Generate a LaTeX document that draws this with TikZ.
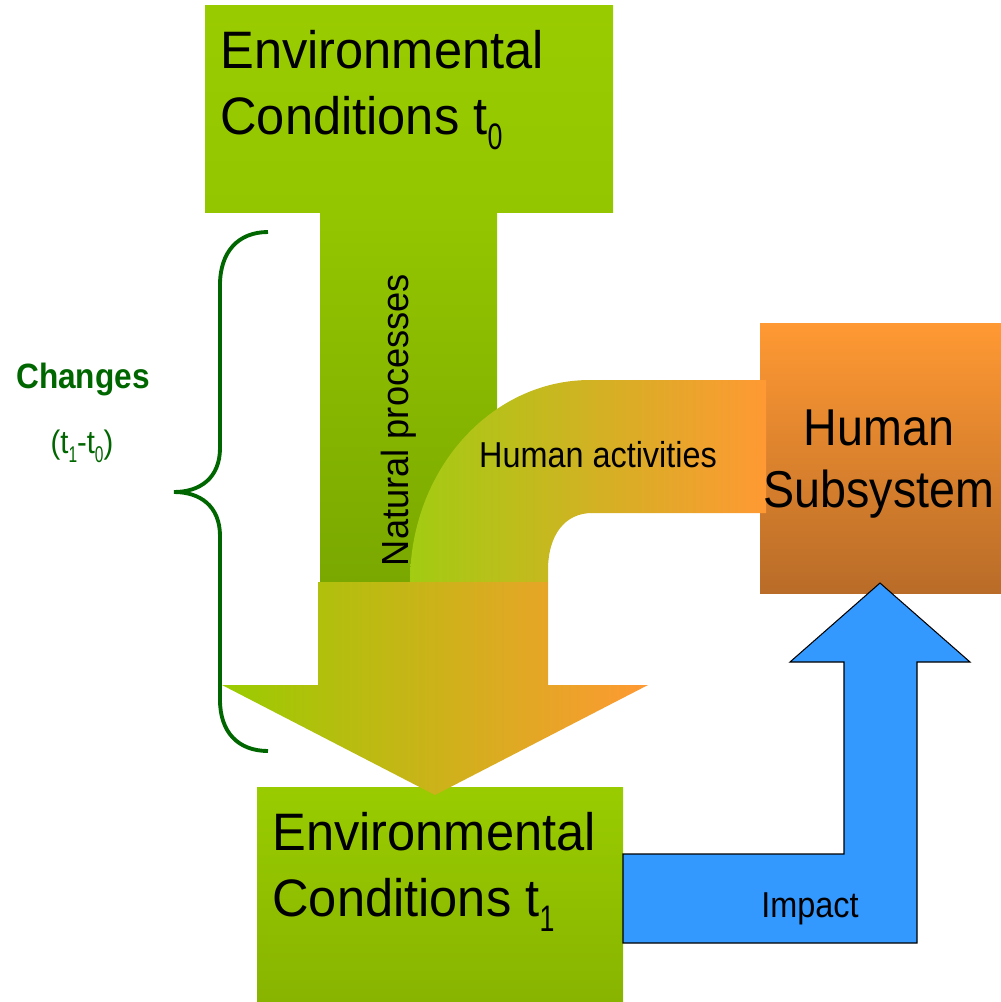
\documentclass[tikz,border=0pt]{standalone}
\usepackage{fontspec}
\usepackage{graphicx}
\setmainfont[FakeStretch=0.9]{Liberation Sans}
\newfontfamily\widesans[FakeStretch=0.96]{Liberation Sans}
\newcommand{\lowsub}[1]{\raisebox{-0.28em}{\scalebox{0.53}[0.7]{#1}}}
\definecolor{envgreen}{RGB}{153,204,0}
\definecolor{envgreenmid}{RGB}{148,198,0}
\definecolor{envgreendark}{RGB}{122,168,0}
\definecolor{envgreenlow}{RGB}{136,180,0}
\definecolor{pipegreen}{RGB}{162,204,18}
\definecolor{humanorange}{RGB}{255,153,51}
\definecolor{humanbrown}{RGB}{185,108,40}
\definecolor{impactblue}{RGB}{51,153,255}
\definecolor{changegreen}{RGB}{0,102,0}
\begin{document}
\begin{tikzpicture}[x=0.02cm,y=-0.02cm,
        bigtext/.style={font=\widesans\fontsize{30}{37.4}\selectfont,inner sep=0pt},
        midtext/.style={font=\fontsize{20.5}{24}\selectfont,inner sep=0pt}]
            \useasboundingbox (0,0) rectangle (1001,1002);
            \coordinate (TopBoxNW) at (205,5);
            \coordinate (TopBoxSE) at (613,212);
            \coordinate (LowBoxNW) at (257,787);
            \coordinate (LowBoxSE) at (623,1002);
            \coordinate (HumanNW) at (760,323);
            \coordinate (HumanSE) at (1001,593);
            \shade[top color=envgreen, bottom color=envgreenmid] (TopBoxNW) rectangle (TopBoxSE);
            \shade[top color=envgreenmid, bottom color=envgreendark] (320,212) rectangle (497,582);
            \shade[top color=humanorange, bottom color=humanbrown] (HumanNW) rectangle (HumanSE);
            \shade[left color=pipegreen, right color=humanorange]
                (410,582) .. controls (410,470) and (491,380) .. (590,380) -- (766,380) -- (766,513)
                -- (592,513) .. controls (565,513) and (548,535) .. (548,570) -- (548,582) -- cycle;
            \shade[top color=envgreen, bottom color=envgreenlow] (LowBoxNW) rectangle (LowBoxSE);
            \shade[left color=envgreen, right color=humanorange]
                (318,582) -- (548,582) -- (548,685) -- (648,685) -- (435,795) -- (222,685) -- (318,685) -- cycle;
            \draw[fill=impactblue, line width=0.6pt]
                (623,854) -- (844,854) -- (844,662) -- (790,662) -- (880,583) -- (970,662)
                -- (917,662) -- (917,943) -- (623,943) -- cycle;
            \draw[changegreen, line width=2.2pt] (268,232) .. controls (238,232) and (220,252) .. (220,285)
                -- (220,448) .. controls (220,478) and (200,492) .. (174,492)
                .. controls (200,492) and (220,506) .. (220,536)
                -- (220,700) .. controls (220,732) and (238,751) .. (268,751);
            \node[bigtext, anchor=north west, align=left] (EnvTop) at (220,30) {Environmental\\Conditions t\lowsub{0}};
            \node[bigtext, anchor=north west, align=left] (EnvLow) at (272,812) {Environmental\\Conditions t\lowsub{1}};
            \node[inner sep=0pt, font=\fontsize{29.5}{35.7}\selectfont, anchor=north, align=center] (Human) at (879,409) {Human\\Subsystem};
            \node[midtext, font=\widesans\fontsize{21.5}{24}\selectfont, rotate=90, anchor=base] (Natural) at (408,420) {Natural processes};
            \node[midtext, anchor=base] (Activities) at (598,467) {Human activities};
            \node[midtext, anchor=base] (Impact) at (810,917) {Impact};
            \node[font=\fontsize{20}{24}\selectfont\bfseries, text=changegreen, anchor=base] (Changes) at (83,388) {Changes};
            \node[font=\fontsize{18.5}{22}\selectfont, text=changegreen, anchor=base] (Span) at (82,453) {(t\lowsub{1}-t\lowsub{0})};
        \end{tikzpicture}
\end{document}
